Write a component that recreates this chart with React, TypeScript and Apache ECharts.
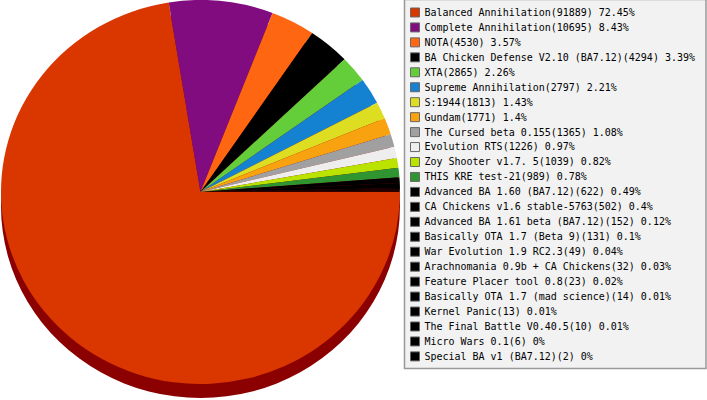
import React, { useEffect, useRef } from "react";
import * as echarts from "echarts";

const names: string[] = [
  "Balanced Annihilation",
  "Complete Annihilation",
  "NOTA",
  "BA Chicken Defense V2.10 (BA7.12)",
  "XTA",
  "Supreme Annihilation",
  "S:1944",
  "Gundam",
  "The Cursed beta 0.155",
  "Evolution RTS",
  "Zoy Shooter v1.7. 5",
  "THIS KRE test-21",
  "Advanced BA 1.60 (BA7.12)",
  "CA Chickens v1.6 stable-5763",
  "Advanced BA 1.61 beta (BA7.12)",
  "Basically OTA 1.7 (Beta 9)",
  "War Evolution 1.9 RC2.3",
  "Arachnomania 0.9b + CA Chickens",
  "Feature Placer tool 0.8",
  "Basically OTA 1.7 (mad science)",
  "Kernel Panic",
  "The Final Battle V0.40.5",
  "Micro Wars 0.1",
  "Special BA v1 (BA7.12)",
];

const values: number[] = [
  91889, 10695, 4530, 4294, 2865, 2797, 1813, 1771, 1365, 1226, 1039, 989,
  622, 502, 152, 131, 49, 32, 23, 14, 13, 10, 6, 2,
];

const colors: string[] = [
  "#DA3700", "#800C80", "#FF6611", "#000000", "#64CD3A", "#1581D1",
  "#DDDD22", "#F9A20F", "#A0A0A0", "#EEEEEE", "#BBE300", "#2E9531",
  "#000000", "#000000", "#000000", "#000000", "#000000", "#000000",
  "#000000", "#000000", "#000000", "#000000", "#000000", "#000000",
];

const SY = 192 / 199.5;

export default function App() {
  const ref = useRef<HTMLDivElement>(null);
  useEffect(() => {
    document.body.style.margin = "0";
    const chart = echarts.init(ref.current!, null, { renderer: "svg" });
    const total = values.reduce((a, b) => a + b, 0);
    const labelOf: Record<string, string> = {};
    names.forEach((n, i) => {
      const p = Math.round((values[i] / total) * 10000) / 100;
      labelOf[n] = `${n}(${values[i]}) ${p}%`;
    });
    const rowPitch = 15 / SY;
    const itemH = 9 / SY;
    const rowH = 10.4;
    chart.setOption({
      animation: false,
      color: colors,
      graphic: [
        {
          type: "rect",
          z: 1,
          silent: true,
          shape: { x: 404.5, y: -0.5, width: 301.5, height: 369 / SY },
          style: { fill: "#F2F2F2", stroke: "#999999", lineWidth: 1.5 },
        },
      ],
      legend: {
        orient: "vertical",
        left: 410,
        top: 8 / SY - (rowH - itemH) / 2,
        padding: 0,
        itemWidth: 9,
        itemHeight: itemH,
        itemGap: rowPitch - rowH,
        icon: "rect",
        selectedMode: false,
        data: names,
        itemStyle: { borderColor: "#666666", borderWidth: 1 },
        textStyle: {
          fontFamily: "DejaVu Sans Mono",
          fontSize: 10,
          color: "#000000",
          lineHeight: itemH,
        },
        formatter: (name: string) => labelOf[name] ?? name,
        z: 5,
      },
      series: [
        {
          type: "pie",
          silent: true,
          center: [200.5, 199.5 + 14 / SY],
          radius: 199.5,
          label: { show: false },
          labelLine: { show: false },
          itemStyle: { color: "#8B0000" },
          data: [{ name: "depth", value: 1 }],
          z: 1,
        },
        {
          type: "pie",
          silent: true,
          center: [200.5, 199.5],
          radius: 199.5,
          startAngle: 0,
          clockwise: true,
          avoidLabelOverlap: false,
          label: { show: false },
          labelLine: { show: false },
          itemStyle: { borderWidth: 0 },
          data: names.map((n, i) => ({
            name: n,
            value: values[i],
            itemStyle: { color: colors[i] },
          })),
          z: 2,
        },
      ],
    });
    return () => chart.dispose();
  }, []);
  return (
    <div style={{ width: 707, height: 400, overflow: "hidden" }}>
      <div
        ref={ref}
        style={{
          width: 707,
          height: 416,
          transform: `scaleY(${SY})`,
          transformOrigin: "0 0",
        }}
      />
    </div>
  );
}
